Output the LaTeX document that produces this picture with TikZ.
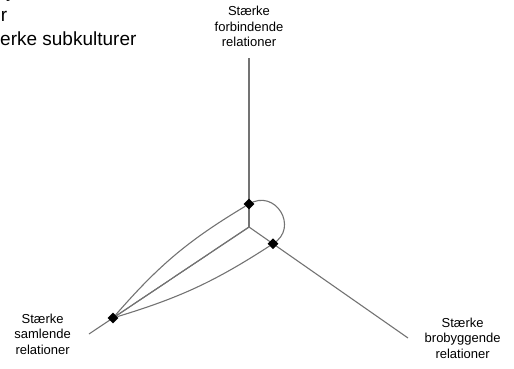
\documentclass[tikz,border=0pt]{standalone}
\usepackage{fontspec}
\setmainfont{Liberation Sans}
\usetikzlibrary{positioning, shapes.geometric, calc}

\begin{document}
\begin{tikzpicture}[x=1pt, y=1pt,
  ax/.style = {draw=gray!90!black, line width=1.1pt},
  dot/.style = {diamond, fill=black, inner sep=0pt, minimum size=11pt},
  lbl/.style = {align=center, inner sep=0pt, text=black, font=\fontsize{13}{15.5}\selectfont},
  big/.style = {inner sep=0pt, anchor=base west, text=black, font=\fontsize{19}{24}\selectfont}]
\useasboundingbox (0,0) rectangle (514,368);
\clip (0,0) rectangle (514,368);
\coordinate (c) at (249,141);
\coordinate (t) at (249,310);
\coordinate (l) at (89,34);
\coordinate (r) at (408,30);
\node[big] (s1) at (6,370.3) {y};
\node[big] (s2) at (-10,346.3) {er};
\node[big] (s3) at (0,322.3) {erke subkulturer};
\node[lbl, above=11pt of t] (tl) {Stærke\\forbindende\\relationer};
\node[lbl, left=18pt of l] (ll) {Stærke\\samlende\\relationer};
\node[lbl, right=16.5pt of r] (rl) {Stærke\\brobyggende\\relationer};
\draw[ax] (c) -- (t);
\draw[ax] (c) -- (l);
\draw[ax] (c) -- (r);
\draw[ax] ($(c)!0.136!(t)$) to[out=31, in=31, looseness=1.7] ($(c)!0.151!(r)$);
\node[dot] (u) at ($(c)!0.136!(t)$) {};
\node[dot] (dl) at ($(c)!0.85!(l)$) {};
\node[dot] (dr) at ($(c)!0.151!(r)$) {};
\draw[ax] (dl) to[bend left=9] (u);
\draw[ax] (dl) -- (c);
\draw[ax] (dl) to[bend right=8] (dr);
\end{tikzpicture}
\end{document}
